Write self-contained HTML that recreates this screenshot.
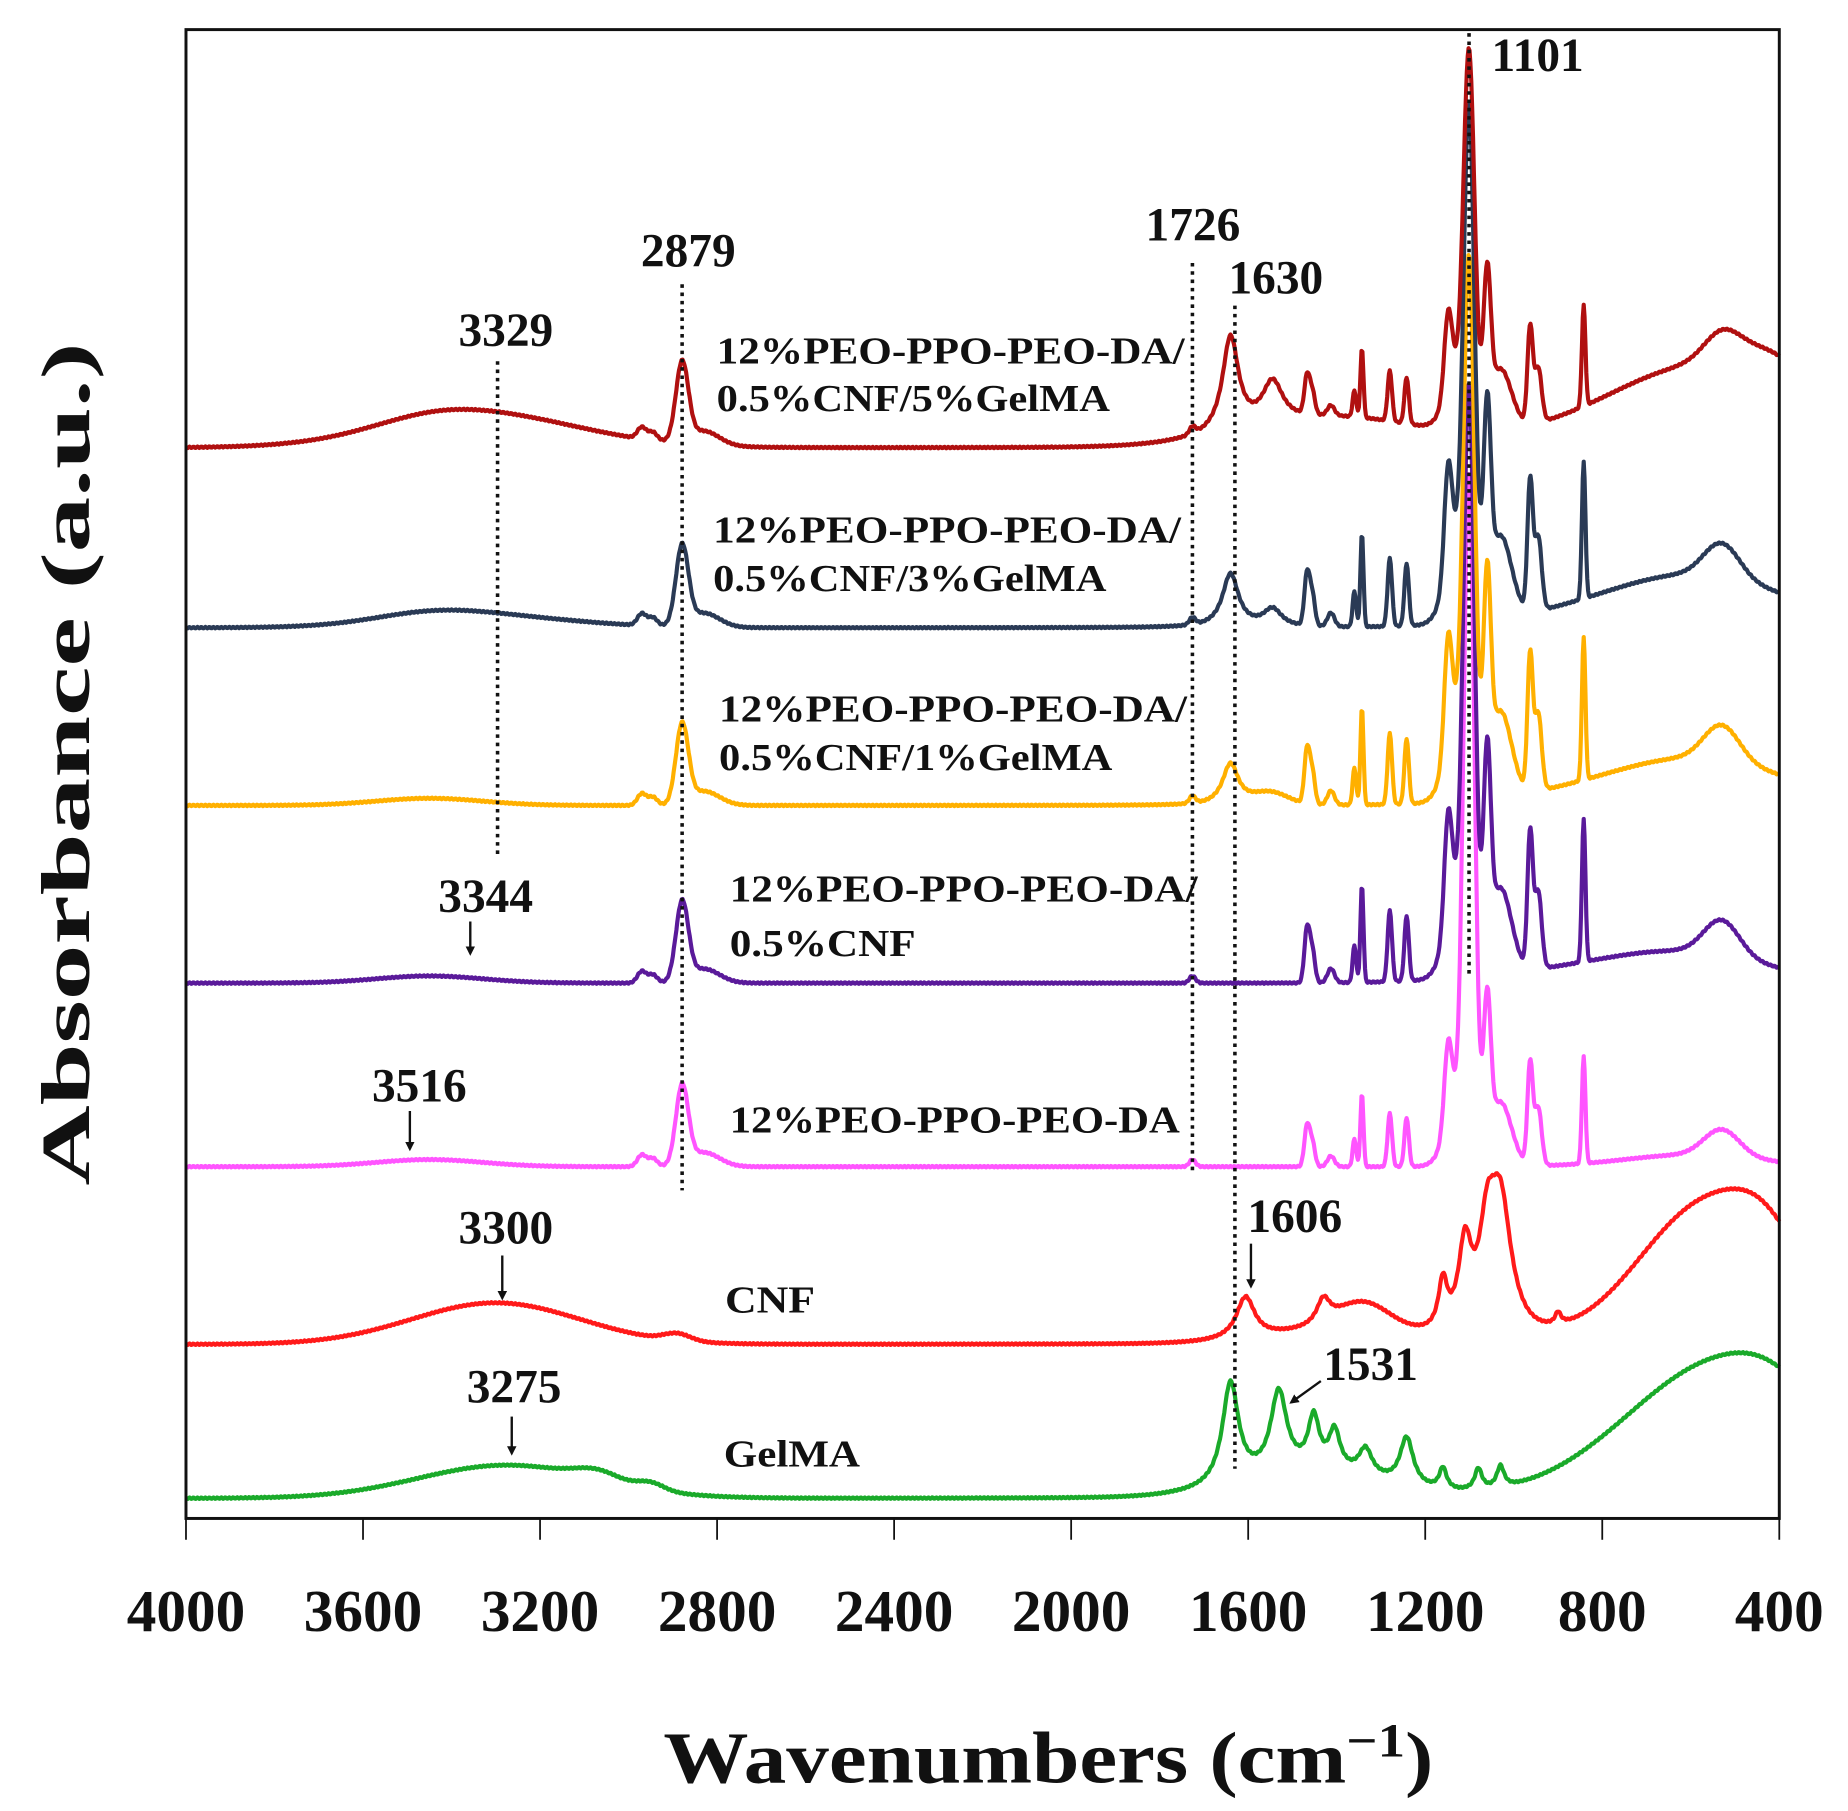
<!DOCTYPE html>
<html><head><meta charset="utf-8"><style>
html,body{margin:0;padding:0;background:#fff;}
svg{display:block;}
text{font-family:"Liberation Serif",serif;font-weight:bold;fill:#111;}
</style></head><body>
<svg id="s" width="1848" height="1811" viewBox="0 0 1560 1529" preserveAspectRatio="none" xmlns="http://www.w3.org/2000/svg">
<defs><marker id="ah" markerWidth="8" markerHeight="8" refX="6" refY="4" orient="auto" markerUnits="userSpaceOnUse"><path d="M0,0 L8,4 L0,8 Z" fill="#111"/></marker></defs>
<g id="series" fill="none" stroke-width="3.5" stroke-linejoin="round"></g>
<g id="dots" stroke="#111" stroke-width="3" stroke-dasharray="3,4"></g>
<rect x="157" y="25" width="1345" height="1257" fill="none" stroke="#111" stroke-width="2.5"/>
<g id="ticks" stroke="#111" stroke-width="1.5"></g>
<g font-size="50" text-anchor="middle" id="tl"></g>
<text x="885" y="1505" font-size="62" text-anchor="middle" textLength="650" lengthAdjust="spacingAndGlyphs">Wavenumbers (cm<tspan dy="-22" font-size="40">−1</tspan><tspan dy="22">)</tspan></text>
<text transform="translate(75,645) rotate(-90)" font-size="58" text-anchor="middle" textLength="712" lengthAdjust="spacingAndGlyphs">Absorbance (a.u.)</text>
<g font-size="40" text-anchor="middle">
<text x="1298" y="60">1101</text>
<text x="581" y="225">2879</text>
<text x="427" y="292">3329</text>
<text x="1007" y="203">1726</text>
<text x="1077" y="248">1630</text>
<text x="410" y="770">3344</text>
<text x="354" y="930">3516</text>
<text x="427" y="1050">3300</text>
<text x="1093" y="1040">1606</text>
<text x="1157" y="1165">1531</text>
<text x="434" y="1184">3275</text>
</g>
<g stroke="#111" stroke-width="2" marker-end="url(#ah)">
<line x1="397" y1="778" x2="397" y2="805"/>
<line x1="346" y1="938" x2="346" y2="970"/>
<line x1="424" y1="1060" x2="424" y2="1096"/>
<line x1="1056" y1="1050" x2="1056" y2="1086"/>
<line x1="1115" y1="1166" x2="1090" y2="1184"/>
<line x1="432" y1="1196" x2="432" y2="1227"/>
</g>
<g font-size="32">
<text x="605" y="307" textLength="395" lengthAdjust="spacingAndGlyphs">12%PEO-PPO-PEO-DA/</text>
<text x="605" y="347" textLength="332" lengthAdjust="spacingAndGlyphs">0.5%CNF/5%GelMA</text>
<text x="602" y="458" textLength="395" lengthAdjust="spacingAndGlyphs">12%PEO-PPO-PEO-DA/</text>
<text x="602" y="499" textLength="332" lengthAdjust="spacingAndGlyphs">0.5%CNF/3%GelMA</text>
<text x="607" y="609" textLength="395" lengthAdjust="spacingAndGlyphs">12%PEO-PPO-PEO-DA/</text>
<text x="607" y="650" textLength="332" lengthAdjust="spacingAndGlyphs">0.5%CNF/1%GelMA</text>
<text x="616" y="761" textLength="395" lengthAdjust="spacingAndGlyphs">12%PEO-PPO-PEO-DA/</text>
<text x="616" y="807" textLength="157" lengthAdjust="spacingAndGlyphs">0.5%CNF</text>
<text x="616" y="956" textLength="380" lengthAdjust="spacingAndGlyphs">12%PEO-PPO-PEO-DA</text>
<text x="612" y="1108" textLength="76" lengthAdjust="spacingAndGlyphs">CNF</text>
<text x="611" y="1238" textLength="115" lengthAdjust="spacingAndGlyphs">GelMA</text>
</g>
</svg>
<script>
var NS="http://www.w3.org/2000/svg";
function X(w){return 157+(4000-w)*1345/3600;}
function el(n,a,p){var e=document.createElementNS(NS,n);for(var k in a)e.setAttribute(k,a[k]);p.appendChild(e);return e;}
var tg=document.getElementById('ticks'),tl=document.getElementById('tl');
for(var w=4000;w>=400;w-=400){el('line',{x1:X(w),x2:X(w),y1:1282,y2:1300},tg);var t=el('text',{x:X(w),y:1377},tl);t.textContent=w;}
var dg=document.getElementById('dots');
[[3296,305,725],[2879,240,1005],[1726,222,990],[1630,258,1240],[1101,28,825]].forEach(function(d){el('line',{x1:X(d[0]),x2:X(d[0]),y1:d[1],y2:d[2]},dg);});
function peo(k,big,extra){
 var p=[['g',3450,6,120],['g',2970,10,10],['g',2945,7,10],['g',2879,66,14],['g',2830,12,35],['g',1726,6,7],
 ['g',1467,38*k,6],['g',1455,22*k,6],['g',1413,10*k,8],['g',1360,26*k,4],['g',1343,68*k,3.5],['g',1280,50*k,5],['g',1242,46*k,5],
 ['g',1148,80*k,9],['g',1101,big,12],['g',1060,130*k,8],['g',1030,60*k,25],['g',963,95*k,6],['g',945,55*k,8],['g',842,100*k,4],['g',530,25*k,40],['g',600,10,150],['g',1120,60*k,30]];
 return p.concat(extra||[]);
}
var S=[
 {c:'#1aaa2a',b:1265,p:[['g',3275,28,200],['g',3070,8,50],['g',2950,6,30],['l',1640,85,22],['l',1531,68,22],['l',1452,42,15],['l',1405,32,15],['l',1335,22,18],['l',1242,40,18],['l',1160,18,10],['l',1080,18,10],['l',1030,18,10],['g',1450,22,160],['g',520,117,220],['g',420,10,80]]},
 {c:'#ff1a1a',b:1135,p:[['g',3300,35,190],['g',2890,6,30],['l',1606,35,25],['l',1430,20,18],['g',1340,22,60],['l',1160,40,12],['l',1110,70,18],['l',1060,70,22],['l',1030,110,30],['g',1400,12,150],['g',560,118,155],['g',420,35,80],['l',900,10,8]]},
 {c:'#ff55ff',b:985,p:peo(0.9,540)},
 {c:'#5a1a9a',b:830,p:peo(1.2,440,[['g',700,18,250]])},
 {c:'#ffb000',b:680,p:peo(1.2,400,[['l',1640,35,22],['g',1550,10,40],['g',600,30,250]])},
 {c:'#2a3a55',b:530,p:peo(1.15,380,[['l',1640,45,22],['l',1545,15,25],['g',3329,10,200],['g',600,35,250]])},
 {c:'#b01010',b:378,p:peo(0.85,280,[['g',3329,28,220],['l',1640,80,22],['l',1545,35,28],['g',1400,25,200],['g',560,60,250],['g',420,25,80]])}
];
var sg=document.getElementById('series');
S.forEach(function(s){
 var d='';
 for(var w=4000;w>=400;w-=2){
  var y=s.b;
  s.p.forEach(function(q){var dd=(w-q[1])/q[3];y-=q[0]=='g'?q[2]*Math.exp(-dd*dd/2):q[2]/(1+dd*dd);});
  y+=Math.sin(w*0.7)*0.6;
  d+=(w==4000?'M':'L')+X(w).toFixed(1)+','+y.toFixed(1);
 }
 el('path',{d:d,stroke:s.c},sg);
});
</script>
</body></html>
